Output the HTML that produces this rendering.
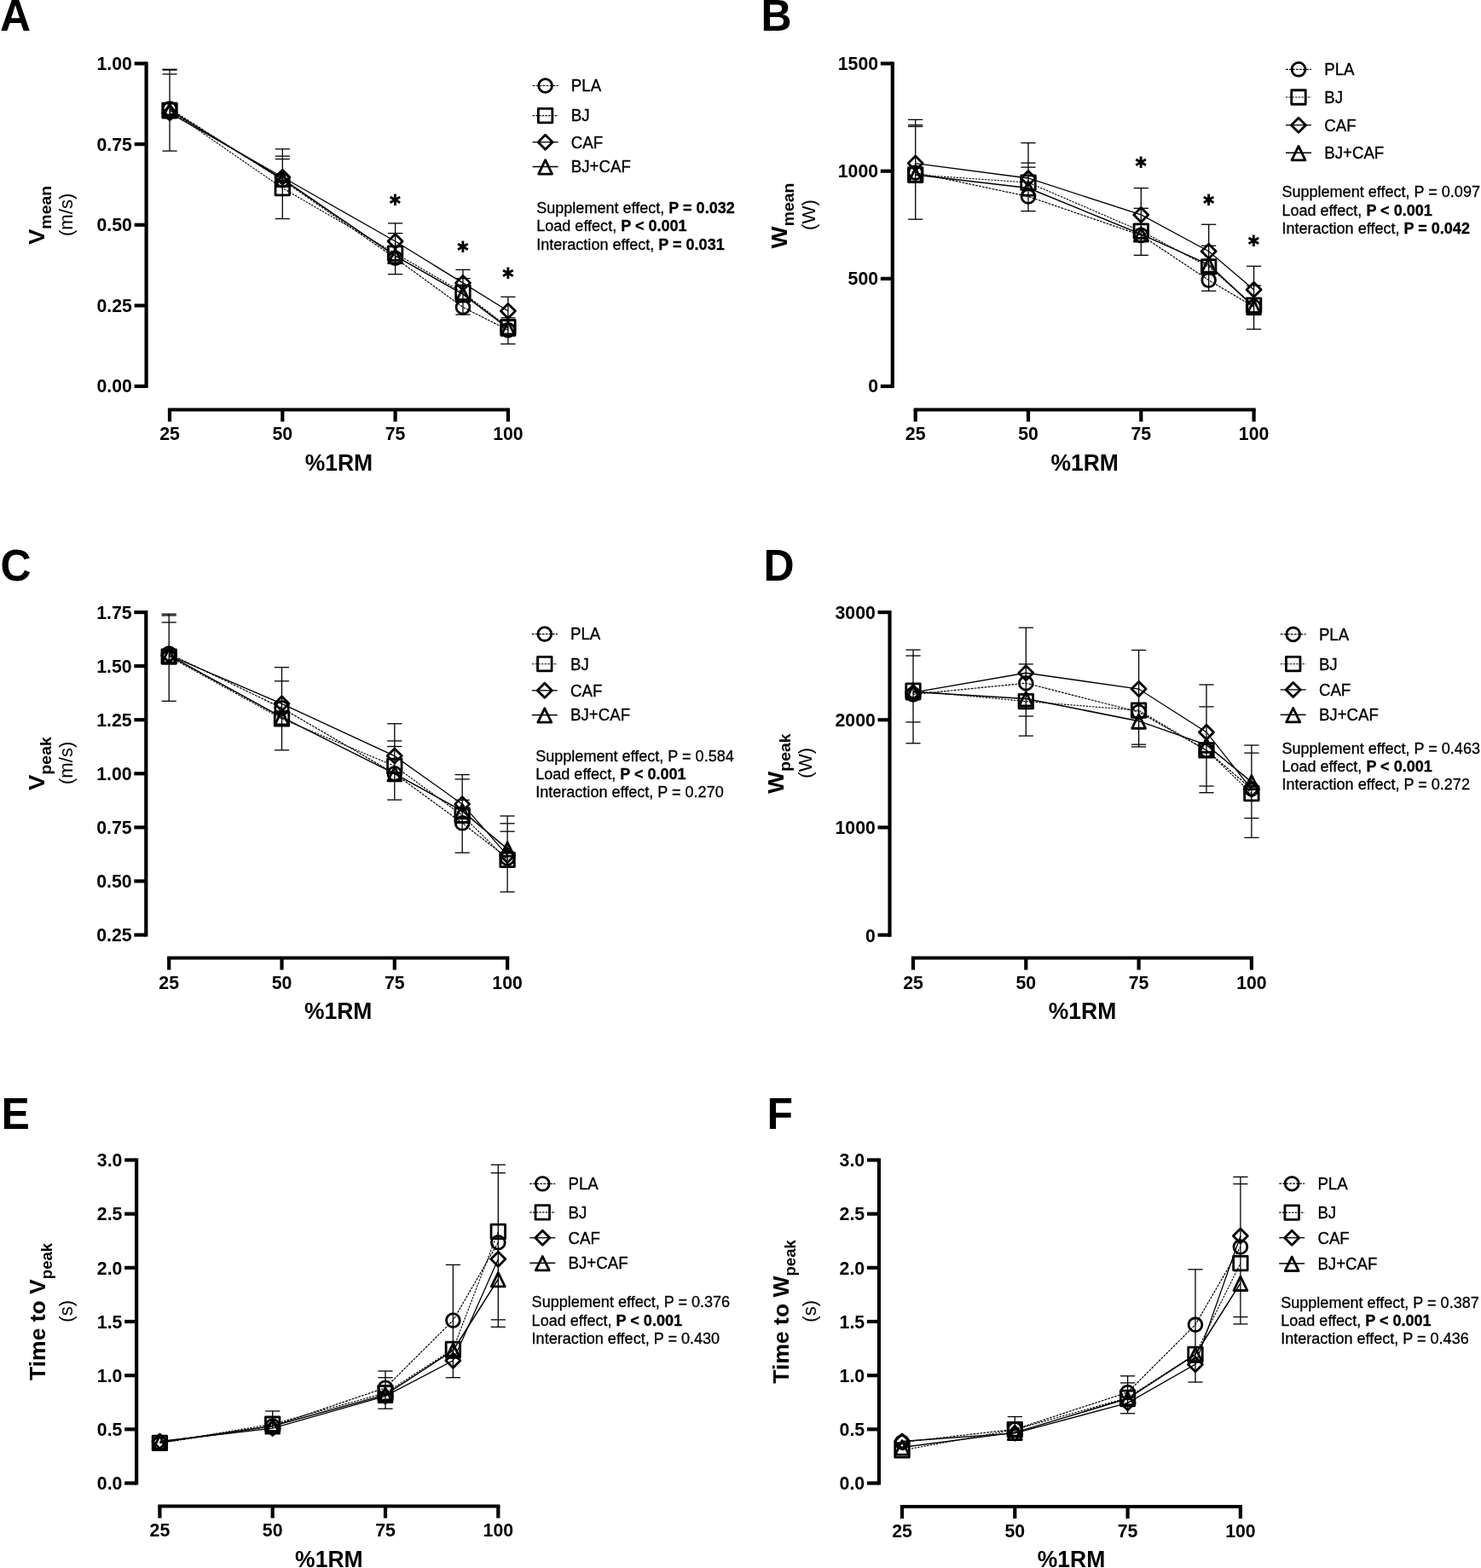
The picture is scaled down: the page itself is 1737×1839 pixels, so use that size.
<!DOCTYPE html>
<html><head><meta charset="utf-8"><title>Figure</title>
<style>html,body{margin:0;padding:0;background:#fff;overflow:hidden;}svg{display:block;}</style></head>
<body><svg width="1737" height="1839" viewBox="0 0 1737 1839">
<rect width="1737" height="1839" fill="#fff"/><g stroke="#000" stroke-width="4.2" fill="none">
<path d="M171.6 72.4V455.1"/>
<path d="M157.6 453H171.6"/>
<path d="M157.6 358.38H171.6"/>
<path d="M157.6 263.75H171.6"/>
<path d="M157.6 169.12H171.6"/>
<path d="M157.6 74.5H171.6"/>
<path d="M196.9 480.5H598"/>
<path d="M199 480.5V494.5"/>
<path d="M331.3 480.5V494.5"/>
<path d="M463.6 480.5V494.5"/>
<path d="M595.9 480.5V494.5"/>
</g>
<g font-family="'Liberation Sans', Arial, sans-serif" font-weight="bold" font-size="21.3">
<text transform="translate(154.9,460.4) scale(1,1.045)" text-anchor="end">0.00</text>
<text transform="translate(154.9,365.77) scale(1,1.045)" text-anchor="end">0.25</text>
<text transform="translate(154.9,271.15) scale(1,1.045)" text-anchor="end">0.50</text>
<text transform="translate(154.9,176.53) scale(1,1.045)" text-anchor="end">0.75</text>
<text transform="translate(154.9,81.9) scale(1,1.045)" text-anchor="end">1.00</text>
<text transform="translate(199,515.5) scale(1,1.045)" text-anchor="middle">25</text>
<text transform="translate(331.3,515.5) scale(1,1.045)" text-anchor="middle">50</text>
<text transform="translate(463.6,515.5) scale(1,1.045)" text-anchor="middle">75</text>
<text transform="translate(595.9,515.5) scale(1,1.045)" text-anchor="middle">100</text>
</g>
<text transform="translate(397.4,552) scale(1,1.045)" font-family="'Liberation Sans', Arial, sans-serif" font-weight="bold" font-size="26.5" text-anchor="middle">%1RM</text>
<text transform="translate(52.1,252.5) scale(1,1.045) rotate(-90)" font-family="'Liberation Sans', Arial, sans-serif" font-weight="bold" font-size="26.5" text-anchor="middle">V<tspan font-size="18.6" dy="8">mean</tspan></text>
<text transform="translate(85.4,251.8) scale(1,1.045) rotate(-90)" font-family="'Liberation Sans', Arial, sans-serif" font-size="21.3" text-anchor="middle">(m/s)</text>
<text transform="translate(0,35.8) scale(1,1.045)" font-family="'Liberation Sans', Arial, sans-serif" font-weight="bold" font-size="50">A</text>
<g stroke="#000" stroke-width="1.3" fill="none">
<path d="M199 81.31V177.07"/>
<path d="M190.4 81.31H207.6"/>
<path d="M190.4 82.07H207.6"/>
<path d="M190.4 86.99H207.6"/>
<path d="M190.4 177.07H207.6"/>
<path d="M331.3 174.8V256.56"/>
<path d="M322.7 174.8H339.9"/>
<path d="M322.7 183.13H339.9"/>
<path d="M322.7 186.54H339.9"/>
<path d="M322.7 256.56H339.9"/>
<path d="M463.6 261.86V321.66"/>
<path d="M455 261.86H472.2"/>
<path d="M455 273.59H472.2"/>
<path d="M455 321.66H472.2"/>
<path d="M542.98 316.36V368.97"/>
<path d="M534.38 316.36H551.58"/>
<path d="M534.38 326.58H551.58"/>
<path d="M534.38 368.97H551.58"/>
<path d="M595.9 348.16V403.42"/>
<path d="M587.3 348.16H604.5"/>
<path d="M587.3 372.76H604.5"/>
<path d="M587.3 403.42H604.5"/>
</g>
<polyline points="199,127.49 331.3,211.14 463.6,302.74 542.98,360.27 595.9,387.14" fill="none" stroke="#000" stroke-width="1.2" stroke-dasharray="2.8 1.2"/>
<polyline points="199,129.38 331.3,220.6 463.6,297.06 542.98,343.24 595.9,383.73" fill="none" stroke="#000" stroke-width="1.1" stroke-dasharray="2.4 1.3"/>
<polyline points="199,132.41 331.3,207.73 463.6,283.05 542.98,331.88 595.9,364.81" fill="none" stroke="#000" stroke-width="1.3"/>
<polyline points="199,129.38 331.3,210 463.6,300.09 542.98,345.13 595.9,384.87" fill="none" stroke="#000" stroke-width="1.5"/>
<g fill="none" stroke="#000" stroke-width="2.8" stroke-linejoin="round">
<circle cx="199" cy="127.49" r="7.9"/>
<circle cx="331.3" cy="211.14" r="7.9"/>
<circle cx="463.6" cy="302.74" r="7.9"/>
<circle cx="542.98" cy="360.27" r="7.9"/>
<circle cx="595.9" cy="387.14" r="7.9"/>
<rect x="190.75" y="121.13" width="16.5" height="16.5"/>
<rect x="323.05" y="212.35" width="16.5" height="16.5"/>
<rect x="455.35" y="288.81" width="16.5" height="16.5"/>
<rect x="534.73" y="334.99" width="16.5" height="16.5"/>
<rect x="587.65" y="375.48" width="16.5" height="16.5"/>
<path d="M199 123.91L207.5 132.41L199 140.91L190.5 132.41Z"/>
<path d="M331.3 199.23L339.8 207.73L331.3 216.23L322.8 207.73Z"/>
<path d="M463.6 274.55L472.1 283.05L463.6 291.55L455.1 283.05Z"/>
<path d="M542.98 323.38L551.48 331.88L542.98 340.38L534.48 331.88Z"/>
<path d="M595.9 356.31L604.4 364.81L595.9 373.31L587.4 364.81Z"/>
<path d="M199 121.58L206.95 137.98L191.05 137.98Z"/>
<path d="M331.3 202.2L339.25 218.6L323.35 218.6Z"/>
<path d="M463.6 292.29L471.55 308.69L455.65 308.69Z"/>
<path d="M542.98 337.33L550.93 353.73L535.03 353.73Z"/>
<path d="M595.9 377.07L603.85 393.47L587.95 393.47Z"/>
</g>
<text x="463.6" y="241.3" font-family="DejaVu Sans" font-size="18.5" text-anchor="middle">&#x2731;</text>
<text x="542.98" y="296.3" font-family="DejaVu Sans" font-size="18.5" text-anchor="middle">&#x2731;</text>
<text x="595.9" y="327.3" font-family="DejaVu Sans" font-size="18.5" text-anchor="middle">&#x2731;</text>
<path d="M624.6 100.5H654.6" stroke="#000" fill="none" stroke-width="1.2" stroke-dasharray="2.8 1.2"/>
<g fill="none" stroke="#000" stroke-width="2.8" stroke-linejoin="round"><circle cx="639.6" cy="100.5" r="7.9"/></g>
<text transform="translate(669.8,107.3) scale(1,1.045)" font-family="'Liberation Sans', Arial, sans-serif" font-size="18.7" stroke="#000" stroke-width="0.3">PLA</text>
<path d="M624.6 135.6H654.6" stroke="#000" fill="none" stroke-width="1.1" stroke-dasharray="2.4 1.3"/>
<g fill="none" stroke="#000" stroke-width="2.8" stroke-linejoin="round"><rect x="631.35" y="127.35" width="16.5" height="16.5"/></g>
<text transform="translate(669.8,142.4) scale(1,1.045)" font-family="'Liberation Sans', Arial, sans-serif" font-size="18.7" stroke="#000" stroke-width="0.3">BJ</text>
<path d="M624.6 166.7H654.6" stroke="#000" fill="none" stroke-width="1.3"/>
<g fill="none" stroke="#000" stroke-width="2.8" stroke-linejoin="round"><path d="M639.6 158.2L648.1 166.7L639.6 175.2L631.1 166.7Z"/></g>
<text transform="translate(669.8,173.5) scale(1,1.045)" font-family="'Liberation Sans', Arial, sans-serif" font-size="18.7" stroke="#000" stroke-width="0.3">CAF</text>
<path d="M624.6 195.5H654.6" stroke="#000" fill="none" stroke-width="1.5"/>
<g fill="none" stroke="#000" stroke-width="2.8" stroke-linejoin="round"><path d="M639.6 187.7L647.55 204.1L631.65 204.1Z"/></g>
<text transform="translate(669.8,202.3) scale(1,1.045)" font-family="'Liberation Sans', Arial, sans-serif" font-size="18.7" stroke="#000" stroke-width="0.3">BJ+CAF</text>
<text transform="translate(629.2,249.9) scale(1,1.045)" font-family="'Liberation Sans', Arial, sans-serif" font-size="18.05" stroke="#000" stroke-width="0.3">Supplement effect, <tspan font-weight="bold">P = 0.032</tspan></text>
<text transform="translate(629.2,271.2) scale(1,1.045)" font-family="'Liberation Sans', Arial, sans-serif" font-size="18.05" stroke="#000" stroke-width="0.3">Load effect, <tspan font-weight="bold">P < 0.001</tspan></text>
<text transform="translate(629.2,292.5) scale(1,1.045)" font-family="'Liberation Sans', Arial, sans-serif" font-size="18.05" stroke="#000" stroke-width="0.3">Interaction effect, <tspan font-weight="bold">P = 0.031</tspan></text>
<g stroke="#000" stroke-width="4.2" fill="none">
<path d="M1046.8 72.4V455.1"/>
<path d="M1032.8 453H1046.8"/>
<path d="M1032.8 326.83H1046.8"/>
<path d="M1032.8 200.67H1046.8"/>
<path d="M1032.8 74.5H1046.8"/>
<path d="M1071.6 480.5H1472.7"/>
<path d="M1073.7 480.5V494.5"/>
<path d="M1206 480.5V494.5"/>
<path d="M1338.3 480.5V494.5"/>
<path d="M1470.6 480.5V494.5"/>
</g>
<g font-family="'Liberation Sans', Arial, sans-serif" font-weight="bold" font-size="21.3">
<text transform="translate(1030.1,460.4) scale(1,1.045)" text-anchor="end">0</text>
<text transform="translate(1030.1,334.23) scale(1,1.045)" text-anchor="end">500</text>
<text transform="translate(1030.1,208.07) scale(1,1.045)" text-anchor="end">1000</text>
<text transform="translate(1030.1,81.9) scale(1,1.045)" text-anchor="end">1500</text>
<text transform="translate(1073.7,516.2) scale(1,1.045)" text-anchor="middle">25</text>
<text transform="translate(1206,516.2) scale(1,1.045)" text-anchor="middle">50</text>
<text transform="translate(1338.3,516.2) scale(1,1.045)" text-anchor="middle">75</text>
<text transform="translate(1470.6,516.2) scale(1,1.045)" text-anchor="middle">100</text>
</g>
<text transform="translate(1272.15,552) scale(1,1.045)" font-family="'Liberation Sans', Arial, sans-serif" font-weight="bold" font-size="26.5" text-anchor="middle">%1RM</text>
<text transform="translate(922.6,253) scale(1,1.045) rotate(-90)" font-family="'Liberation Sans', Arial, sans-serif" font-weight="bold" font-size="26.5" text-anchor="middle">W<tspan font-size="18.6" dy="8">mean</tspan></text>
<text transform="translate(955.7,252) scale(1,1.045) rotate(-90)" font-family="'Liberation Sans', Arial, sans-serif" font-size="21.3" text-anchor="middle">(W)</text>
<text transform="translate(892.4,35.8) scale(1,1.045)" font-family="'Liberation Sans', Arial, sans-serif" font-weight="bold" font-size="50">B</text>
<g stroke="#000" stroke-width="1.3" fill="none">
<path d="M1073.7 140.36V257.19"/>
<path d="M1065.1 140.36H1082.3"/>
<path d="M1065.1 146.67H1082.3"/>
<path d="M1065.1 148.43H1082.3"/>
<path d="M1065.1 257.19H1082.3"/>
<path d="M1206 167.61V247.6"/>
<path d="M1197.4 167.61H1214.6"/>
<path d="M1197.4 191.08H1214.6"/>
<path d="M1197.4 196.12H1214.6"/>
<path d="M1197.4 247.6H1214.6"/>
<path d="M1338.3 220.6V299.33"/>
<path d="M1329.7 220.6H1346.9"/>
<path d="M1329.7 244.32H1346.9"/>
<path d="M1329.7 299.33H1346.9"/>
<path d="M1417.68 263.25V341.22"/>
<path d="M1409.08 263.25H1426.28"/>
<path d="M1409.08 288.23H1426.28"/>
<path d="M1409.08 341.22H1426.28"/>
<path d="M1470.6 312.2V386.13"/>
<path d="M1462 312.2H1479.2"/>
<path d="M1462 334.91H1479.2"/>
<path d="M1462 386.13H1479.2"/>
</g>
<polyline points="1073.7,202.43 1206,230.44 1338.3,275.86 1417.68,328.6 1470.6,359.89" fill="none" stroke="#000" stroke-width="1.2" stroke-dasharray="2.8 1.2"/>
<polyline points="1073.7,204.96 1206,214.04 1338.3,271.07 1417.68,312.96 1470.6,358.12" fill="none" stroke="#000" stroke-width="1.1" stroke-dasharray="2.4 1.3"/>
<polyline points="1073.7,191.58 1206,208.99 1338.3,251.89 1417.68,294.79 1470.6,339.7" fill="none" stroke="#000" stroke-width="1.3"/>
<polyline points="1073.7,204.96 1206,220.6 1338.3,274.6 1417.68,310.43 1470.6,359.89" fill="none" stroke="#000" stroke-width="1.5"/>
<g fill="none" stroke="#000" stroke-width="2.8" stroke-linejoin="round">
<circle cx="1073.7" cy="202.43" r="7.9"/>
<circle cx="1206" cy="230.44" r="7.9"/>
<circle cx="1338.3" cy="275.86" r="7.9"/>
<circle cx="1417.68" cy="328.6" r="7.9"/>
<circle cx="1470.6" cy="359.89" r="7.9"/>
<rect x="1065.45" y="196.71" width="16.5" height="16.5"/>
<rect x="1197.75" y="205.79" width="16.5" height="16.5"/>
<rect x="1330.05" y="262.82" width="16.5" height="16.5"/>
<rect x="1409.43" y="304.71" width="16.5" height="16.5"/>
<rect x="1462.35" y="349.87" width="16.5" height="16.5"/>
<path d="M1073.7 183.08L1082.2 191.58L1073.7 200.08L1065.2 191.58Z"/>
<path d="M1206 200.49L1214.5 208.99L1206 217.49L1197.5 208.99Z"/>
<path d="M1338.3 243.39L1346.8 251.89L1338.3 260.39L1329.8 251.89Z"/>
<path d="M1417.68 286.29L1426.18 294.79L1417.68 303.29L1409.18 294.79Z"/>
<path d="M1470.6 331.2L1479.1 339.7L1470.6 348.2L1462.1 339.7Z"/>
<path d="M1073.7 197.16L1081.65 213.56L1065.75 213.56Z"/>
<path d="M1206 212.8L1213.95 229.2L1198.05 229.2Z"/>
<path d="M1338.3 266.8L1346.25 283.2L1330.35 283.2Z"/>
<path d="M1417.68 302.63L1425.63 319.03L1409.73 319.03Z"/>
<path d="M1470.6 352.09L1478.55 368.49L1462.65 368.49Z"/>
</g>
<text x="1338.3" y="197.4" font-family="DejaVu Sans" font-size="18.5" text-anchor="middle">&#x2731;</text>
<text x="1417.68" y="240.5" font-family="DejaVu Sans" font-size="18.5" text-anchor="middle">&#x2731;</text>
<text x="1470.6" y="288.6" font-family="DejaVu Sans" font-size="18.5" text-anchor="middle">&#x2731;</text>
<path d="M1508 81.3H1538" stroke="#000" fill="none" stroke-width="1.2" stroke-dasharray="2.8 1.2"/>
<g fill="none" stroke="#000" stroke-width="2.8" stroke-linejoin="round"><circle cx="1523" cy="81.3" r="7.9"/></g>
<text transform="translate(1553.2,88.1) scale(1,1.045)" font-family="'Liberation Sans', Arial, sans-serif" font-size="18.7" stroke="#000" stroke-width="0.3">PLA</text>
<path d="M1508 114H1538" stroke="#000" fill="none" stroke-width="1.1" stroke-dasharray="2.4 1.3"/>
<g fill="none" stroke="#000" stroke-width="2.8" stroke-linejoin="round"><rect x="1514.75" y="105.75" width="16.5" height="16.5"/></g>
<text transform="translate(1553.2,120.8) scale(1,1.045)" font-family="'Liberation Sans', Arial, sans-serif" font-size="18.7" stroke="#000" stroke-width="0.3">BJ</text>
<path d="M1508 146.7H1538" stroke="#000" fill="none" stroke-width="1.3"/>
<g fill="none" stroke="#000" stroke-width="2.8" stroke-linejoin="round"><path d="M1523 138.2L1531.5 146.7L1523 155.2L1514.5 146.7Z"/></g>
<text transform="translate(1553.2,153.5) scale(1,1.045)" font-family="'Liberation Sans', Arial, sans-serif" font-size="18.7" stroke="#000" stroke-width="0.3">CAF</text>
<path d="M1508 179.2H1538" stroke="#000" fill="none" stroke-width="1.5"/>
<g fill="none" stroke="#000" stroke-width="2.8" stroke-linejoin="round"><path d="M1523 171.4L1530.95 187.8L1515.05 187.8Z"/></g>
<text transform="translate(1553.2,186) scale(1,1.045)" font-family="'Liberation Sans', Arial, sans-serif" font-size="18.7" stroke="#000" stroke-width="0.3">BJ+CAF</text>
<text transform="translate(1503.4,231.4) scale(1,1.045)" font-family="'Liberation Sans', Arial, sans-serif" font-size="18.05" stroke="#000" stroke-width="0.3">Supplement effect, P = 0.097</text>
<text transform="translate(1503.4,252.7) scale(1,1.045)" font-family="'Liberation Sans', Arial, sans-serif" font-size="18.05" stroke="#000" stroke-width="0.3">Load effect, <tspan font-weight="bold">P < 0.001</tspan></text>
<text transform="translate(1503.4,274) scale(1,1.045)" font-family="'Liberation Sans', Arial, sans-serif" font-size="18.05" stroke="#000" stroke-width="0.3">Interaction effect, <tspan font-weight="bold">P = 0.042</tspan></text>
<g stroke="#000" stroke-width="4.2" fill="none">
<path d="M171.3 716V1098.6"/>
<path d="M157.3 1096.5H171.3"/>
<path d="M157.3 1033.43H171.3"/>
<path d="M157.3 970.37H171.3"/>
<path d="M157.3 907.3H171.3"/>
<path d="M157.3 844.23H171.3"/>
<path d="M157.3 781.17H171.3"/>
<path d="M157.3 718.1H171.3"/>
<path d="M196.1 1123.5H597.2"/>
<path d="M198.2 1123.5V1137.5"/>
<path d="M330.5 1123.5V1137.5"/>
<path d="M462.8 1123.5V1137.5"/>
<path d="M595.1 1123.5V1137.5"/>
</g>
<g font-family="'Liberation Sans', Arial, sans-serif" font-weight="bold" font-size="21.3">
<text transform="translate(154.6,1104.3) scale(1,1.045)" text-anchor="end">0.25</text>
<text transform="translate(154.6,1041.23) scale(1,1.045)" text-anchor="end">0.50</text>
<text transform="translate(154.6,978.17) scale(1,1.045)" text-anchor="end">0.75</text>
<text transform="translate(154.6,915.1) scale(1,1.045)" text-anchor="end">1.00</text>
<text transform="translate(154.6,852.03) scale(1,1.045)" text-anchor="end">1.25</text>
<text transform="translate(154.6,788.97) scale(1,1.045)" text-anchor="end">1.50</text>
<text transform="translate(154.6,725.9) scale(1,1.045)" text-anchor="end">1.75</text>
<text transform="translate(198.2,1159.7) scale(1,1.045)" text-anchor="middle">25</text>
<text transform="translate(330.5,1159.7) scale(1,1.045)" text-anchor="middle">50</text>
<text transform="translate(462.8,1159.7) scale(1,1.045)" text-anchor="middle">75</text>
<text transform="translate(595.1,1159.7) scale(1,1.045)" text-anchor="middle">100</text>
</g>
<text transform="translate(396.65,1195) scale(1,1.045)" font-family="'Liberation Sans', Arial, sans-serif" font-weight="bold" font-size="26.5" text-anchor="middle">%1RM</text>
<text transform="translate(52.3,895.6) scale(1,1.045) rotate(-90)" font-family="'Liberation Sans', Arial, sans-serif" font-weight="bold" font-size="26.5" text-anchor="middle">V<tspan font-size="18.6" dy="8">peak</tspan></text>
<text transform="translate(85.4,894.8) scale(1,1.045) rotate(-90)" font-family="'Liberation Sans', Arial, sans-serif" font-size="21.3" text-anchor="middle">(m/s)</text>
<text transform="translate(0.4,680.7) scale(1,1.045)" font-family="'Liberation Sans', Arial, sans-serif" font-weight="bold" font-size="50">C</text>
<g stroke="#000" stroke-width="1.3" fill="none">
<path d="M198.2 720.12V822.29"/>
<path d="M189.6 720.12H206.8"/>
<path d="M189.6 721.88H206.8"/>
<path d="M189.6 729.96H206.8"/>
<path d="M189.6 822.29H206.8"/>
<path d="M330.5 782.68V879.8"/>
<path d="M321.9 782.68H339.1"/>
<path d="M321.9 798.83H339.1"/>
<path d="M321.9 879.8H339.1"/>
<path d="M462.8 848.77V938.08"/>
<path d="M454.2 848.77H471.4"/>
<path d="M454.2 868.96H471.4"/>
<path d="M454.2 875.51H471.4"/>
<path d="M454.2 938.08H471.4"/>
<path d="M542.18 908.56V1000.13"/>
<path d="M533.58 908.56H550.78"/>
<path d="M533.58 913.86H550.78"/>
<path d="M533.58 938.33H550.78"/>
<path d="M533.58 1000.13H550.78"/>
<path d="M595.1 957V1046.05"/>
<path d="M586.5 957H603.7"/>
<path d="M586.5 965.83H603.7"/>
<path d="M586.5 975.16H603.7"/>
<path d="M586.5 1046.05H603.7"/>
</g>
<polyline points="198.2,766.54 330.5,830.36 462.8,907.3 542.18,965.32 595.1,1006.44" fill="none" stroke="#000" stroke-width="1.2" stroke-dasharray="2.8 1.2"/>
<polyline points="198.2,770.07 330.5,842.97 462.8,898.47 542.18,956.24 595.1,1008.46" fill="none" stroke="#000" stroke-width="1.1" stroke-dasharray="2.4 1.3"/>
<polyline points="198.2,768.55 330.5,825.31 462.8,886.61 542.18,943.12 595.1,1003.16" fill="none" stroke="#000" stroke-width="1.3"/>
<polyline points="198.2,768.55 330.5,841.21 462.8,907.3 542.18,951.19 595.1,995.59" fill="none" stroke="#000" stroke-width="1.5"/>
<g fill="none" stroke="#000" stroke-width="2.8" stroke-linejoin="round">
<circle cx="198.2" cy="766.54" r="7.9"/>
<circle cx="330.5" cy="830.36" r="7.9"/>
<circle cx="462.8" cy="907.3" r="7.9"/>
<circle cx="542.18" cy="965.32" r="7.9"/>
<circle cx="595.1" cy="1006.44" r="7.9"/>
<rect x="189.95" y="761.82" width="16.5" height="16.5"/>
<rect x="322.25" y="834.72" width="16.5" height="16.5"/>
<rect x="454.55" y="890.22" width="16.5" height="16.5"/>
<rect x="533.93" y="947.99" width="16.5" height="16.5"/>
<rect x="586.85" y="1000.21" width="16.5" height="16.5"/>
<path d="M198.2 760.05L206.7 768.55L198.2 777.05L189.7 768.55Z"/>
<path d="M330.5 816.81L339 825.31L330.5 833.81L322 825.31Z"/>
<path d="M462.8 878.11L471.3 886.61L462.8 895.11L454.3 886.61Z"/>
<path d="M542.18 934.62L550.68 943.12L542.18 951.62L533.68 943.12Z"/>
<path d="M595.1 994.66L603.6 1003.16L595.1 1011.66L586.6 1003.16Z"/>
<path d="M198.2 760.75L206.15 777.15L190.25 777.15Z"/>
<path d="M330.5 833.41L338.45 849.81L322.55 849.81Z"/>
<path d="M462.8 899.5L470.75 915.9L454.85 915.9Z"/>
<path d="M542.18 943.39L550.13 959.79L534.23 959.79Z"/>
<path d="M595.1 987.79L603.05 1004.19L587.15 1004.19Z"/>
</g>
<path d="M623.8 743.6H653.8" stroke="#000" fill="none" stroke-width="1.2" stroke-dasharray="2.8 1.2"/>
<g fill="none" stroke="#000" stroke-width="2.8" stroke-linejoin="round"><circle cx="638.8" cy="743.6" r="7.9"/></g>
<text transform="translate(669,750.4) scale(1,1.045)" font-family="'Liberation Sans', Arial, sans-serif" font-size="18.7" stroke="#000" stroke-width="0.3">PLA</text>
<path d="M623.8 778.7H653.8" stroke="#000" fill="none" stroke-width="1.1" stroke-dasharray="2.4 1.3"/>
<g fill="none" stroke="#000" stroke-width="2.8" stroke-linejoin="round"><rect x="630.55" y="770.45" width="16.5" height="16.5"/></g>
<text transform="translate(669,785.5) scale(1,1.045)" font-family="'Liberation Sans', Arial, sans-serif" font-size="18.7" stroke="#000" stroke-width="0.3">BJ</text>
<path d="M623.8 809.8H653.8" stroke="#000" fill="none" stroke-width="1.3"/>
<g fill="none" stroke="#000" stroke-width="2.8" stroke-linejoin="round"><path d="M638.8 801.3L647.3 809.8L638.8 818.3L630.3 809.8Z"/></g>
<text transform="translate(669,816.6) scale(1,1.045)" font-family="'Liberation Sans', Arial, sans-serif" font-size="18.7" stroke="#000" stroke-width="0.3">CAF</text>
<path d="M623.8 838.6H653.8" stroke="#000" fill="none" stroke-width="1.5"/>
<g fill="none" stroke="#000" stroke-width="2.8" stroke-linejoin="round"><path d="M638.8 830.8L646.75 847.2L630.85 847.2Z"/></g>
<text transform="translate(669,845.4) scale(1,1.045)" font-family="'Liberation Sans', Arial, sans-serif" font-size="18.7" stroke="#000" stroke-width="0.3">BJ+CAF</text>
<text transform="translate(628.2,892.5) scale(1,1.045)" font-family="'Liberation Sans', Arial, sans-serif" font-size="18.05" stroke="#000" stroke-width="0.3">Supplement effect, P = 0.584</text>
<text transform="translate(628.2,913.8) scale(1,1.045)" font-family="'Liberation Sans', Arial, sans-serif" font-size="18.05" stroke="#000" stroke-width="0.3">Load effect, <tspan font-weight="bold">P < 0.001</tspan></text>
<text transform="translate(628.2,935.1) scale(1,1.045)" font-family="'Liberation Sans', Arial, sans-serif" font-size="18.05" stroke="#000" stroke-width="0.3">Interaction effect, P = 0.270</text>
<g stroke="#000" stroke-width="4.2" fill="none">
<path d="M1043.5 716V1098.7"/>
<path d="M1029.5 1096.6H1043.5"/>
<path d="M1029.5 970.43H1043.5"/>
<path d="M1029.5 844.27H1043.5"/>
<path d="M1029.5 718.1H1043.5"/>
<path d="M1068.9 1123.5H1470"/>
<path d="M1071 1123.5V1137.5"/>
<path d="M1203.3 1123.5V1137.5"/>
<path d="M1335.6 1123.5V1137.5"/>
<path d="M1467.9 1123.5V1137.5"/>
</g>
<g font-family="'Liberation Sans', Arial, sans-serif" font-weight="bold" font-size="21.3">
<text transform="translate(1026.8,1104.5) scale(1,1.045)" text-anchor="end">0</text>
<text transform="translate(1026.8,978.33) scale(1,1.045)" text-anchor="end">1000</text>
<text transform="translate(1026.8,852.17) scale(1,1.045)" text-anchor="end">2000</text>
<text transform="translate(1026.8,726) scale(1,1.045)" text-anchor="end">3000</text>
<text transform="translate(1071,1159.5) scale(1,1.045)" text-anchor="middle">25</text>
<text transform="translate(1203.3,1159.5) scale(1,1.045)" text-anchor="middle">50</text>
<text transform="translate(1335.6,1159.5) scale(1,1.045)" text-anchor="middle">75</text>
<text transform="translate(1467.9,1159.5) scale(1,1.045)" text-anchor="middle">100</text>
</g>
<text transform="translate(1269.45,1195) scale(1,1.045)" font-family="'Liberation Sans', Arial, sans-serif" font-weight="bold" font-size="26.5" text-anchor="middle">%1RM</text>
<text transform="translate(919,895.6) scale(1,1.045) rotate(-90)" font-family="'Liberation Sans', Arial, sans-serif" font-weight="bold" font-size="26.5" text-anchor="middle">W<tspan font-size="18.6" dy="8">peak</tspan></text>
<text transform="translate(952.3,894.8) scale(1,1.045) rotate(-90)" font-family="'Liberation Sans', Arial, sans-serif" font-size="21.3" text-anchor="middle">(W)</text>
<text transform="translate(895.5,680.7) scale(1,1.045)" font-family="'Liberation Sans', Arial, sans-serif" font-weight="bold" font-size="50">D</text>
<g stroke="#000" stroke-width="1.3" fill="none">
<path d="M1071 762.13V871.77"/>
<path d="M1062.4 762.13H1079.6"/>
<path d="M1062.4 769.07H1079.6"/>
<path d="M1062.4 846.92H1079.6"/>
<path d="M1062.4 871.77H1079.6"/>
<path d="M1203.3 736.14V863.07"/>
<path d="M1194.7 736.14H1211.9"/>
<path d="M1194.7 778.91H1211.9"/>
<path d="M1194.7 839.98H1211.9"/>
<path d="M1194.7 863.07H1211.9"/>
<path d="M1335.6 762.51V875.93"/>
<path d="M1327 762.51H1344.2"/>
<path d="M1327 873.16H1344.2"/>
<path d="M1327 875.93H1344.2"/>
<path d="M1414.98 803.01V929.68"/>
<path d="M1406.38 803.01H1423.58"/>
<path d="M1406.38 828.87H1423.58"/>
<path d="M1406.38 921.99H1423.58"/>
<path d="M1406.38 929.68H1423.58"/>
<path d="M1467.9 874.04V982.42"/>
<path d="M1459.3 874.04H1476.5"/>
<path d="M1459.3 883.13H1476.5"/>
<path d="M1459.3 959.58H1476.5"/>
<path d="M1459.3 982.42H1476.5"/>
</g>
<polyline points="1071,814.37 1203.3,801.24 1335.6,835.06 1414.98,879.97 1467.9,925.27" fill="none" stroke="#000" stroke-width="1.2" stroke-dasharray="2.8 1.2"/>
<polyline points="1071,810.2 1203.3,822.57 1335.6,833.16 1414.98,879.97 1467.9,930.56" fill="none" stroke="#000" stroke-width="1.1" stroke-dasharray="2.4 1.3"/>
<polyline points="1071,812.22 1203.3,789.26 1335.6,808.06 1414.98,858.65 1467.9,925.64" fill="none" stroke="#000" stroke-width="1.3"/>
<polyline points="1071,811.46 1203.3,819.41 1335.6,845.65 1414.98,873.66 1467.9,917.06" fill="none" stroke="#000" stroke-width="1.5"/>
<g fill="none" stroke="#000" stroke-width="2.8" stroke-linejoin="round">
<circle cx="1071" cy="814.37" r="7.9"/>
<circle cx="1203.3" cy="801.24" r="7.9"/>
<circle cx="1335.6" cy="835.06" r="7.9"/>
<circle cx="1414.98" cy="879.97" r="7.9"/>
<circle cx="1467.9" cy="925.27" r="7.9"/>
<rect x="1062.75" y="801.95" width="16.5" height="16.5"/>
<rect x="1195.05" y="814.32" width="16.5" height="16.5"/>
<rect x="1327.35" y="824.91" width="16.5" height="16.5"/>
<rect x="1406.73" y="871.72" width="16.5" height="16.5"/>
<rect x="1459.65" y="922.31" width="16.5" height="16.5"/>
<path d="M1071 803.72L1079.5 812.22L1071 820.72L1062.5 812.22Z"/>
<path d="M1203.3 780.76L1211.8 789.26L1203.3 797.76L1194.8 789.26Z"/>
<path d="M1335.6 799.56L1344.1 808.06L1335.6 816.56L1327.1 808.06Z"/>
<path d="M1414.98 850.15L1423.48 858.65L1414.98 867.15L1406.48 858.65Z"/>
<path d="M1467.9 917.14L1476.4 925.64L1467.9 934.14L1459.4 925.64Z"/>
<path d="M1071 803.66L1078.95 820.06L1063.05 820.06Z"/>
<path d="M1203.3 811.61L1211.25 828.01L1195.35 828.01Z"/>
<path d="M1335.6 837.85L1343.55 854.25L1327.65 854.25Z"/>
<path d="M1414.98 865.86L1422.93 882.26L1407.03 882.26Z"/>
<path d="M1467.9 909.26L1475.85 925.66L1459.95 925.66Z"/>
</g>
<path d="M1501.7 743.9H1531.7" stroke="#000" fill="none" stroke-width="1.2" stroke-dasharray="2.8 1.2"/>
<g fill="none" stroke="#000" stroke-width="2.8" stroke-linejoin="round"><circle cx="1516.7" cy="743.9" r="7.9"/></g>
<text transform="translate(1546.9,750.7) scale(1,1.045)" font-family="'Liberation Sans', Arial, sans-serif" font-size="18.7" stroke="#000" stroke-width="0.3">PLA</text>
<path d="M1501.7 778.7H1531.7" stroke="#000" fill="none" stroke-width="1.1" stroke-dasharray="2.4 1.3"/>
<g fill="none" stroke="#000" stroke-width="2.8" stroke-linejoin="round"><rect x="1508.45" y="770.45" width="16.5" height="16.5"/></g>
<text transform="translate(1546.9,785.5) scale(1,1.045)" font-family="'Liberation Sans', Arial, sans-serif" font-size="18.7" stroke="#000" stroke-width="0.3">BJ</text>
<path d="M1501.7 808.9H1531.7" stroke="#000" fill="none" stroke-width="1.3"/>
<g fill="none" stroke="#000" stroke-width="2.8" stroke-linejoin="round"><path d="M1516.7 800.4L1525.2 808.9L1516.7 817.4L1508.2 808.9Z"/></g>
<text transform="translate(1546.9,815.7) scale(1,1.045)" font-family="'Liberation Sans', Arial, sans-serif" font-size="18.7" stroke="#000" stroke-width="0.3">CAF</text>
<path d="M1501.7 838.3H1531.7" stroke="#000" fill="none" stroke-width="1.5"/>
<g fill="none" stroke="#000" stroke-width="2.8" stroke-linejoin="round"><path d="M1516.7 830.5L1524.65 846.9L1508.75 846.9Z"/></g>
<text transform="translate(1546.9,845.1) scale(1,1.045)" font-family="'Liberation Sans', Arial, sans-serif" font-size="18.7" stroke="#000" stroke-width="0.3">BJ+CAF</text>
<text transform="translate(1503.4,883.5) scale(1,1.045)" font-family="'Liberation Sans', Arial, sans-serif" font-size="18.05" stroke="#000" stroke-width="0.3">Supplement effect, P = 0.463</text>
<text transform="translate(1503.4,904.8) scale(1,1.045)" font-family="'Liberation Sans', Arial, sans-serif" font-size="18.05" stroke="#000" stroke-width="0.3">Load effect, <tspan font-weight="bold">P < 0.001</tspan></text>
<text transform="translate(1503.4,926.1) scale(1,1.045)" font-family="'Liberation Sans', Arial, sans-serif" font-size="18.05" stroke="#000" stroke-width="0.3">Interaction effect, P = 0.272</text>
<g stroke="#000" stroke-width="4.2" fill="none">
<path d="M160.1 1358.4V1741.6"/>
<path d="M146.1 1739.5H160.1"/>
<path d="M146.1 1676.33H160.1"/>
<path d="M146.1 1613.17H160.1"/>
<path d="M146.1 1550H160.1"/>
<path d="M146.1 1486.83H160.1"/>
<path d="M146.1 1423.67H160.1"/>
<path d="M146.1 1360.5H160.1"/>
<path d="M185.3 1766.5H586.4"/>
<path d="M187.4 1766.5V1780.5"/>
<path d="M319.7 1766.5V1780.5"/>
<path d="M452 1766.5V1780.5"/>
<path d="M584.3 1766.5V1780.5"/>
</g>
<g font-family="'Liberation Sans', Arial, sans-serif" font-weight="bold" font-size="21.3">
<text transform="translate(143.4,1747.3) scale(1,1.045)" text-anchor="end">0.0</text>
<text transform="translate(143.4,1684.13) scale(1,1.045)" text-anchor="end">0.5</text>
<text transform="translate(143.4,1620.97) scale(1,1.045)" text-anchor="end">1.0</text>
<text transform="translate(143.4,1557.8) scale(1,1.045)" text-anchor="end">1.5</text>
<text transform="translate(143.4,1494.63) scale(1,1.045)" text-anchor="end">2.0</text>
<text transform="translate(143.4,1431.47) scale(1,1.045)" text-anchor="end">2.5</text>
<text transform="translate(143.4,1368.3) scale(1,1.045)" text-anchor="end">3.0</text>
<text transform="translate(187.4,1802.4) scale(1,1.045)" text-anchor="middle">25</text>
<text transform="translate(319.7,1802.4) scale(1,1.045)" text-anchor="middle">50</text>
<text transform="translate(452,1802.4) scale(1,1.045)" text-anchor="middle">75</text>
<text transform="translate(584.3,1802.4) scale(1,1.045)" text-anchor="middle">100</text>
</g>
<text transform="translate(385.85,1838) scale(1,1.045)" font-family="'Liberation Sans', Arial, sans-serif" font-weight="bold" font-size="26.5" text-anchor="middle">%1RM</text>
<text transform="translate(52.6,1538.4) scale(1,1.0) rotate(-90)" font-family="'Liberation Sans', Arial, sans-serif" font-weight="bold" font-size="26.5" text-anchor="middle">Time to V<tspan font-size="18.6" dy="8">peak</tspan></text>
<text transform="translate(85.4,1537.8) scale(1,1.045) rotate(-90)" font-family="'Liberation Sans', Arial, sans-serif" font-size="21.3" text-anchor="middle">(s)</text>
<text transform="translate(1.5,1323.9) scale(1,1.045)" font-family="'Liberation Sans', Arial, sans-serif" font-weight="bold" font-size="50">E</text>
<g stroke="#000" stroke-width="1.3" fill="none">
<path d="M319.7 1654.98V1675.07"/>
<path d="M311.1 1654.98H328.3"/>
<path d="M452 1607.99V1652.2"/>
<path d="M443.4 1607.99H460.6"/>
<path d="M443.4 1615.69H460.6"/>
<path d="M443.4 1652.2H460.6"/>
<path d="M531.38 1483.42V1615.69"/>
<path d="M522.78 1483.42H539.98"/>
<path d="M522.78 1615.69H539.98"/>
<path d="M584.3 1366.06V1556.32"/>
<path d="M575.7 1366.06H592.9"/>
<path d="M575.7 1375.66H592.9"/>
<path d="M575.7 1547.85H592.9"/>
<path d="M575.7 1556.32H592.9"/>
</g>
<polyline points="187.4,1692.5 319.7,1672.54 452,1627.69 531.38,1548.61 584.3,1457.27" fill="none" stroke="#000" stroke-width="1.2" stroke-dasharray="2.8 1.2"/>
<polyline points="187.4,1692.38 319.7,1670.27 452,1633.76 531.38,1582.47 584.3,1444.39" fill="none" stroke="#000" stroke-width="1.1" stroke-dasharray="2.4 1.3"/>
<polyline points="187.4,1690.48 319.7,1675.07 452,1637.42 531.38,1595.86 584.3,1476.73" fill="none" stroke="#000" stroke-width="1.3"/>
<polyline points="187.4,1691.49 319.7,1672.54 452,1635.91 531.38,1583.86 584.3,1500.35" fill="none" stroke="#000" stroke-width="1.5"/>
<g fill="none" stroke="#000" stroke-width="2.8" stroke-linejoin="round">
<circle cx="187.4" cy="1692.5" r="7.9"/>
<circle cx="319.7" cy="1672.54" r="7.9"/>
<circle cx="452" cy="1627.69" r="7.9"/>
<circle cx="531.38" cy="1548.61" r="7.9"/>
<circle cx="584.3" cy="1457.27" r="7.9"/>
<rect x="179.15" y="1684.13" width="16.5" height="16.5"/>
<rect x="311.45" y="1662.02" width="16.5" height="16.5"/>
<rect x="443.75" y="1625.51" width="16.5" height="16.5"/>
<rect x="523.13" y="1574.22" width="16.5" height="16.5"/>
<rect x="576.05" y="1436.14" width="16.5" height="16.5"/>
<path d="M187.4 1681.98L195.9 1690.48L187.4 1698.98L178.9 1690.48Z"/>
<path d="M319.7 1666.57L328.2 1675.07L319.7 1683.57L311.2 1675.07Z"/>
<path d="M452 1628.92L460.5 1637.42L452 1645.92L443.5 1637.42Z"/>
<path d="M531.38 1587.36L539.88 1595.86L531.38 1604.36L522.88 1595.86Z"/>
<path d="M584.3 1468.23L592.8 1476.73L584.3 1485.23L575.8 1476.73Z"/>
<path d="M187.4 1683.69L195.35 1700.09L179.45 1700.09Z"/>
<path d="M319.7 1664.74L327.65 1681.14L311.75 1681.14Z"/>
<path d="M452 1628.11L459.95 1644.51L444.05 1644.51Z"/>
<path d="M531.38 1576.06L539.33 1592.46L523.43 1592.46Z"/>
<path d="M584.3 1492.55L592.25 1508.95L576.35 1508.95Z"/>
</g>
<path d="M621.3 1388.3H651.3" stroke="#000" fill="none" stroke-width="1.2" stroke-dasharray="2.8 1.2"/>
<g fill="none" stroke="#000" stroke-width="2.8" stroke-linejoin="round"><circle cx="636.3" cy="1388.3" r="7.9"/></g>
<text transform="translate(666.5,1395.1) scale(1,1.045)" font-family="'Liberation Sans', Arial, sans-serif" font-size="18.7" stroke="#000" stroke-width="0.3">PLA</text>
<path d="M621.3 1421.9H651.3" stroke="#000" fill="none" stroke-width="1.1" stroke-dasharray="2.4 1.3"/>
<g fill="none" stroke="#000" stroke-width="2.8" stroke-linejoin="round"><rect x="628.05" y="1413.65" width="16.5" height="16.5"/></g>
<text transform="translate(666.5,1428.7) scale(1,1.045)" font-family="'Liberation Sans', Arial, sans-serif" font-size="18.7" stroke="#000" stroke-width="0.3">BJ</text>
<path d="M621.3 1451.7H651.3" stroke="#000" fill="none" stroke-width="1.3"/>
<g fill="none" stroke="#000" stroke-width="2.8" stroke-linejoin="round"><path d="M636.3 1443.2L644.8 1451.7L636.3 1460.2L627.8 1451.7Z"/></g>
<text transform="translate(666.5,1458.5) scale(1,1.045)" font-family="'Liberation Sans', Arial, sans-serif" font-size="18.7" stroke="#000" stroke-width="0.3">CAF</text>
<path d="M621.3 1481.3H651.3" stroke="#000" fill="none" stroke-width="1.5"/>
<g fill="none" stroke="#000" stroke-width="2.8" stroke-linejoin="round"><path d="M636.3 1473.5L644.25 1489.9L628.35 1489.9Z"/></g>
<text transform="translate(666.5,1488.1) scale(1,1.045)" font-family="'Liberation Sans', Arial, sans-serif" font-size="18.7" stroke="#000" stroke-width="0.3">BJ+CAF</text>
<text transform="translate(623.6,1533.3) scale(1,1.045)" font-family="'Liberation Sans', Arial, sans-serif" font-size="18.05" stroke="#000" stroke-width="0.3">Supplement effect, P = 0.376</text>
<text transform="translate(623.6,1554.6) scale(1,1.045)" font-family="'Liberation Sans', Arial, sans-serif" font-size="18.05" stroke="#000" stroke-width="0.3">Load effect, <tspan font-weight="bold">P < 0.001</tspan></text>
<text transform="translate(623.6,1575.9) scale(1,1.045)" font-family="'Liberation Sans', Arial, sans-serif" font-size="18.05" stroke="#000" stroke-width="0.3">Interaction effect, P = 0.430</text>
<g stroke="#000" stroke-width="4.2" fill="none">
<path d="M1030.9 1358.4V1741.6"/>
<path d="M1016.9 1739.5H1030.9"/>
<path d="M1016.9 1676.33H1030.9"/>
<path d="M1016.9 1613.17H1030.9"/>
<path d="M1016.9 1550H1030.9"/>
<path d="M1016.9 1486.83H1030.9"/>
<path d="M1016.9 1423.67H1030.9"/>
<path d="M1016.9 1360.5H1030.9"/>
<path d="M1055.9 1767H1457"/>
<path d="M1058 1767V1781"/>
<path d="M1190.3 1767V1781"/>
<path d="M1322.6 1767V1781"/>
<path d="M1454.9 1767V1781"/>
</g>
<g font-family="'Liberation Sans', Arial, sans-serif" font-weight="bold" font-size="21.3">
<text transform="translate(1014.2,1747.3) scale(1,1.045)" text-anchor="end">0.0</text>
<text transform="translate(1014.2,1684.13) scale(1,1.045)" text-anchor="end">0.5</text>
<text transform="translate(1014.2,1620.97) scale(1,1.045)" text-anchor="end">1.0</text>
<text transform="translate(1014.2,1557.8) scale(1,1.045)" text-anchor="end">1.5</text>
<text transform="translate(1014.2,1494.63) scale(1,1.045)" text-anchor="end">2.0</text>
<text transform="translate(1014.2,1431.47) scale(1,1.045)" text-anchor="end">2.5</text>
<text transform="translate(1014.2,1368.3) scale(1,1.045)" text-anchor="end">3.0</text>
<text transform="translate(1058,1802.9) scale(1,1.045)" text-anchor="middle">25</text>
<text transform="translate(1190.3,1802.9) scale(1,1.045)" text-anchor="middle">50</text>
<text transform="translate(1322.6,1802.9) scale(1,1.045)" text-anchor="middle">75</text>
<text transform="translate(1454.9,1802.9) scale(1,1.045)" text-anchor="middle">100</text>
</g>
<text transform="translate(1256.45,1838) scale(1,1.045)" font-family="'Liberation Sans', Arial, sans-serif" font-weight="bold" font-size="26.5" text-anchor="middle">%1RM</text>
<text transform="translate(924.8,1538.4) scale(1,1.0) rotate(-90)" font-family="'Liberation Sans', Arial, sans-serif" font-weight="bold" font-size="26.5" text-anchor="middle">Time to W<tspan font-size="18.6" dy="8">peak</tspan></text>
<text transform="translate(957.4,1537.8) scale(1,1.045) rotate(-90)" font-family="'Liberation Sans', Arial, sans-serif" font-size="21.3" text-anchor="middle">(s)</text>
<text transform="translate(899.4,1323.8) scale(1,1.045)" font-family="'Liberation Sans', Arial, sans-serif" font-weight="bold" font-size="50">F</text>
<g stroke="#000" stroke-width="1.3" fill="none">
<path d="M1190.3 1661.55V1680.88"/>
<path d="M1181.7 1661.55H1198.9"/>
<path d="M1322.6 1613.8V1657.76"/>
<path d="M1314 1613.8H1331.2"/>
<path d="M1314 1621.88H1331.2"/>
<path d="M1314 1657.76H1331.2"/>
<path d="M1401.98 1488.85V1621"/>
<path d="M1393.38 1488.85H1410.58"/>
<path d="M1393.38 1621H1410.58"/>
<path d="M1454.9 1380.33V1552.91"/>
<path d="M1446.3 1380.33H1463.5"/>
<path d="M1446.3 1388.55H1463.5"/>
<path d="M1446.3 1544.57H1463.5"/>
<path d="M1446.3 1552.91H1463.5"/>
</g>
<polyline points="1058,1691.49 1190.3,1676.33 1322.6,1633 1401.98,1553.66 1454.9,1462.45" fill="none" stroke="#000" stroke-width="1.2" stroke-dasharray="2.8 1.2"/>
<polyline points="1058,1700.97 1190.3,1676.71 1322.6,1639.32 1401.98,1588.28 1454.9,1481.53" fill="none" stroke="#000" stroke-width="1.1" stroke-dasharray="2.4 1.3"/>
<polyline points="1058,1690.48 1190.3,1680.88 1322.6,1645.38 1401.98,1600.15 1454.9,1449.57" fill="none" stroke="#000" stroke-width="1.3"/>
<polyline points="1058,1697.43 1190.3,1680.12 1322.6,1640.33 1401.98,1588.66 1454.9,1504.9" fill="none" stroke="#000" stroke-width="1.5"/>
<g fill="none" stroke="#000" stroke-width="2.8" stroke-linejoin="round">
<circle cx="1058" cy="1691.49" r="7.9"/>
<circle cx="1190.3" cy="1676.33" r="7.9"/>
<circle cx="1322.6" cy="1633" r="7.9"/>
<circle cx="1401.98" cy="1553.66" r="7.9"/>
<circle cx="1454.9" cy="1462.45" r="7.9"/>
<rect x="1049.75" y="1692.72" width="16.5" height="16.5"/>
<rect x="1182.05" y="1668.46" width="16.5" height="16.5"/>
<rect x="1314.35" y="1631.07" width="16.5" height="16.5"/>
<rect x="1393.73" y="1580.03" width="16.5" height="16.5"/>
<rect x="1446.65" y="1473.28" width="16.5" height="16.5"/>
<path d="M1058 1681.98L1066.5 1690.48L1058 1698.98L1049.5 1690.48Z"/>
<path d="M1190.3 1672.38L1198.8 1680.88L1190.3 1689.38L1181.8 1680.88Z"/>
<path d="M1322.6 1636.88L1331.1 1645.38L1322.6 1653.88L1314.1 1645.38Z"/>
<path d="M1401.98 1591.65L1410.48 1600.15L1401.98 1608.65L1393.48 1600.15Z"/>
<path d="M1454.9 1441.07L1463.4 1449.57L1454.9 1458.07L1446.4 1449.57Z"/>
<path d="M1058 1689.63L1065.95 1706.03L1050.05 1706.03Z"/>
<path d="M1190.3 1672.32L1198.25 1688.72L1182.35 1688.72Z"/>
<path d="M1322.6 1632.53L1330.55 1648.93L1314.65 1648.93Z"/>
<path d="M1401.98 1580.86L1409.93 1597.26L1394.03 1597.26Z"/>
<path d="M1454.9 1497.1L1462.85 1513.5L1446.95 1513.5Z"/>
</g>
<path d="M1500.2 1388.2H1530.2" stroke="#000" fill="none" stroke-width="1.2" stroke-dasharray="2.8 1.2"/>
<g fill="none" stroke="#000" stroke-width="2.8" stroke-linejoin="round"><circle cx="1515.2" cy="1388.2" r="7.9"/></g>
<text transform="translate(1545.4,1395) scale(1,1.045)" font-family="'Liberation Sans', Arial, sans-serif" font-size="18.7" stroke="#000" stroke-width="0.3">PLA</text>
<path d="M1500.2 1422.1H1530.2" stroke="#000" fill="none" stroke-width="1.1" stroke-dasharray="2.4 1.3"/>
<g fill="none" stroke="#000" stroke-width="2.8" stroke-linejoin="round"><rect x="1506.95" y="1413.85" width="16.5" height="16.5"/></g>
<text transform="translate(1545.4,1428.9) scale(1,1.045)" font-family="'Liberation Sans', Arial, sans-serif" font-size="18.7" stroke="#000" stroke-width="0.3">BJ</text>
<path d="M1500.2 1451.7H1530.2" stroke="#000" fill="none" stroke-width="1.3"/>
<g fill="none" stroke="#000" stroke-width="2.8" stroke-linejoin="round"><path d="M1515.2 1443.2L1523.7 1451.7L1515.2 1460.2L1506.7 1451.7Z"/></g>
<text transform="translate(1545.4,1458.5) scale(1,1.045)" font-family="'Liberation Sans', Arial, sans-serif" font-size="18.7" stroke="#000" stroke-width="0.3">CAF</text>
<path d="M1500.2 1481.9H1530.2" stroke="#000" fill="none" stroke-width="1.5"/>
<g fill="none" stroke="#000" stroke-width="2.8" stroke-linejoin="round"><path d="M1515.2 1474.1L1523.15 1490.5L1507.25 1490.5Z"/></g>
<text transform="translate(1545.4,1488.7) scale(1,1.045)" font-family="'Liberation Sans', Arial, sans-serif" font-size="18.7" stroke="#000" stroke-width="0.3">BJ+CAF</text>
<text transform="translate(1502.2,1533.5) scale(1,1.045)" font-family="'Liberation Sans', Arial, sans-serif" font-size="18.05" stroke="#000" stroke-width="0.3">Supplement effect, P = 0.387</text>
<text transform="translate(1502.2,1554.8) scale(1,1.045)" font-family="'Liberation Sans', Arial, sans-serif" font-size="18.05" stroke="#000" stroke-width="0.3">Load effect, <tspan font-weight="bold">P < 0.001</tspan></text>
<text transform="translate(1502.2,1576.1) scale(1,1.045)" font-family="'Liberation Sans', Arial, sans-serif" font-size="18.05" stroke="#000" stroke-width="0.3">Interaction effect, P = 0.436</text>
</svg></body></html>
